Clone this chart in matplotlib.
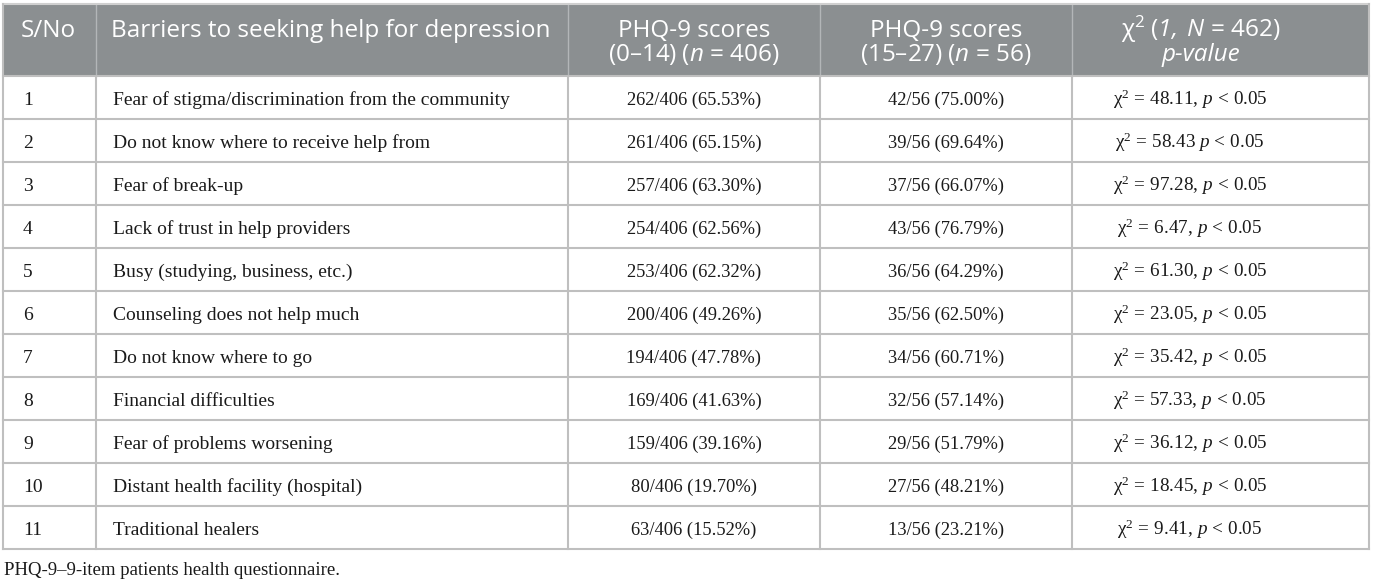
import matplotlib
matplotlib.use("Agg")
import matplotlib.pyplot as plt
from matplotlib.patches import Rectangle

# mathtext: serif for body, Open Sans (via sf / bf) for header pieces
plt.rcParams['mathtext.fontset'] = 'custom'
plt.rcParams['mathtext.rm'] = 'Liberation Serif'
plt.rcParams['mathtext.it'] = 'Liberation Serif:italic'
plt.rcParams['mathtext.sf'] = 'Open Sans'
plt.rcParams['mathtext.bf'] = 'Open Sans:italic'

#%% data
sno = [1, 2, 3, 4, 5, 6, 7, 8, 9, 10, 11]
barriers = [
    "Fear of stigma/discrimination from the community",
    "Do not know where to receive help from",
    "Fear of break-up",
    "Lack of trust in help providers",
    "Busy (studying, business, etc.)",
    "Counseling does not help much",
    "Do not know where to go",
    "Financial difficulties",
    "Fear of problems worsening",
    "Distant health facility (hospital)",
    "Traditional healers",
]
low_n = [262, 261, 257, 254, 253, 200, 194, 169, 159, 80, 63]
low_pct = [65.53, 65.15, 63.30, 62.56, 62.32, 49.26, 47.78, 41.63, 39.16, 19.70, 15.52]
high_n = [42, 39, 37, 43, 36, 35, 34, 32, 29, 27, 13]
high_pct = [75.00, 69.64, 66.07, 76.79, 64.29, 62.50, 60.71, 57.14, 51.79, 48.21, 23.21]
chi2 = [48.11, 58.43, 97.28, 6.47, 61.30, 23.05, 35.42, 57.33, 36.12, 18.45, 9.41]
chi2_comma = [True, False, True, True, True, True, True, True, True, True, True]
low_total = 406
high_total = 56

header_l1 = ["S/No", "Barriers to seeking help for depression", "PHQ-9 scores",
             "PHQ-9 scores", r"$\mathsf{χ^2\ (}\mathbf{1,\ N}\mathsf{\,=\,462)}$"]
header_l2 = ["", "", r"$\mathsf{(0–14)\ (}\mathbf{n}\mathsf{\,=\,406)}$",
             r"$\mathsf{(15–27)\ (}\mathbf{n}\mathsf{\,=\,56)}$", "p-value"]
footnote = "PHQ-9–9-item patients health questionnaire."

#%% layout
W, H = 1375, 582
col_edges = [3, 96, 568, 820, 1072, 1369]
top = 4
head_bot = 76
row_h = 43
hdr_col = "#8b8f91"
line_col = "#bfbfbf"

fig = plt.figure(figsize=(W / 100, H / 100), dpi=100)
ax = fig.add_axes([0, 0, 1, 1])
ax.set_xlim(0, W)
ax.set_ylim(H, 0)
ax.axis('off')

nrows = len(sno)
bottom = head_bot + nrows * row_h

# header block
ax.add_patch(Rectangle((col_edges[0], top), col_edges[-1] - col_edges[0],
                       head_bot - top, facecolor=hdr_col, edgecolor='none'))

# grid lines
for x in col_edges[1:-1]:
    ax.plot([x, x], [top, head_bot], color="#b3b6b8", lw=1.0)
    ax.plot([x, x], [head_bot, bottom], color=line_col, lw=1.5)
for i in range(nrows + 1):
    y = head_bot + i * row_h
    ax.plot([col_edges[0], col_edges[-1]], [y, y], color=line_col, lw=1.5)
ax.plot([col_edges[0], col_edges[-1]], [top, top], color="#d0d0d0", lw=1.5)
ax.plot([col_edges[0], col_edges[0]], [top, bottom], color=line_col, lw=1.5)
ax.plot([col_edges[-1], col_edges[-1]], [top, bottom], color=line_col, lw=1.5)

# header text
hfs = 17.5
hx = [21, 111, (col_edges[2] + col_edges[3]) / 2, (col_edges[3] + col_edges[4]) / 2, 1201]
ha_list = ['left', 'left', 'center', 'center', 'center']
for j in range(5):
    ax.text(hx[j], top + 33, header_l1[j], color='white', fontsize=hfs,
            family='Open Sans', ha=ha_list[j], va='baseline')
    if header_l2[j]:
        style = 'italic' if j == 4 else 'normal'
        ax.text(hx[j], top + 57, header_l2[j], color='white', fontsize=hfs,
                family='Open Sans', style=style, ha=ha_list[j], va='baseline')

# body text
bfs = 14.0
nfs = 13.3
serif = 'Liberation Serif'
for i in range(nrows):
    yb = head_bot + i * row_h + 29
    ax.text(23, yb, str(sno[i]), fontsize=bfs, family=serif, ha='left', va='baseline',
            color='#1a1a1a')
    ax.text(113, yb, barriers[i], fontsize=bfs, family=serif, ha='left', va='baseline',
            color='#1a1a1a')
    ax.text((col_edges[2] + col_edges[3]) / 2, yb,
            f"{low_n[i]}/{low_total} ({low_pct[i]:.2f}%)", fontsize=nfs, family=serif,
            ha='center', va='baseline', color='#1a1a1a')
    ax.text((col_edges[3] + col_edges[4]) / 2, yb,
            f"{high_n[i]}/{high_total} ({high_pct[i]:.2f}%)", fontsize=nfs, family=serif,
            ha='center', va='baseline', color='#1a1a1a')
    sep = r",\," if chi2_comma[i] else r"\ "
    ax.text(1190, yb, r"$\mathrm{χ}^{2}\,=\,%.2f%sp\,<\,0.05$" % (chi2[i], sep),
            fontsize=nfs + 0.5, ha='center', va='baseline', color='#1a1a1a')

ax.text(4, bottom + 26, footnote, fontsize=13.5, family=serif, ha='left',
        va='baseline', color='#1a1a1a')

fig.savefig("out.png", dpi=100)
